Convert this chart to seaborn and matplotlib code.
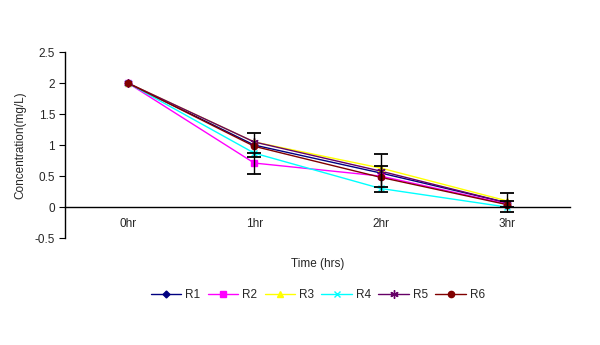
import matplotlib
matplotlib.use("Agg")
import matplotlib.pyplot as plt
import seaborn as sns
import pandas as pd
import numpy as np
from matplotlib.lines import Line2D

times = ["0hr", "1hr", "2hr", "3hr"]
series = ["R1", "R2", "R3", "R4", "R5", "R6"]
R1 = [2.0, 1.00, 0.55, 0.07]
R2 = [2.0, 0.71, 0.50, 0.05]
R3 = [2.0, 1.05, 0.63, 0.10]
R4 = [2.0, 0.87, 0.30, 0.00]
R5 = [2.0, 1.05, 0.58, 0.07]
R6 = [2.0, 0.98, 0.48, 0.04]
R1_err = [0.0, 0.20, 0.30, 0.15]
R2_err = [0.0, 0.17, 0.17, 0.05]

colors = ["#000080", "#FF00FF", "#FFFF00", "#00FFFF", "#660066", "#800000"]
markers = ["D", "s", "^", "x", (6, 2, 0), "o"]
msizes = [3.5, 4.5, 5, 5, 6, 4.5]

values = {"R1": R1, "R2": R2, "R3": R3, "R4": R4, "R5": R5, "R6": R6}
rows = []
for s in series:
    for i, t in enumerate(times):
        rows.append({"pos": i, "time": t, "series": s, "value": values[s][i]})
df = pd.DataFrame(rows)

sns.set_style("white")
plt.rcParams["font.family"] = ["Liberation Sans", "DejaVu Sans"]
FS = 8.5

fig = plt.figure(figsize=(6, 3.45), dpi=100)
ax = fig.add_axes([0.108, 0.310, 0.842, 0.539])

pal = dict(zip(series, colors))
sns.lineplot(data=df, x="pos", y="value", hue="series", palette=pal, ax=ax,
             legend=False, linewidth=1, sort=False)
for s, c, m, ms in zip(series, colors, markers, msizes):
    sub = df[df.series == s]
    ax.plot(sub.pos, sub.value, linestyle="none", marker=m, color=c,
            markersize=ms, markeredgecolor=c, markeredgewidth=1)

for vals, errs in [(R1, R1_err), (R2, R2_err)]:
    idx = [i for i in range(4) if errs[i] > 0]
    ax.errorbar(idx, [vals[i] for i in idx], yerr=[errs[i] for i in idx],
                fmt="none", ecolor="black", elinewidth=1, capsize=5, capthick=1.3)

ax.set_xlim(-0.5, 3.5)
ax.set_ylim(-0.5, 2.5)
ax.set_yticks(np.arange(-0.5, 2.51, 0.5))
ax.set_yticklabels(["-0.5", "0", "0.5", "1", "1.5", "2", "2.5"])
ax.set_xticks(range(4))
ax.set_xticklabels(times)
ax.set_xticks(np.arange(-0.5, 3.6, 1), minor=True)

for sp in ["top", "right"]:
    ax.spines[sp].set_visible(False)
ax.spines["bottom"].set_position(("data", 0))
ax.spines["bottom"].set_color("black")
ax.spines["left"].set_color("black")
ax.spines["bottom"].set_linewidth(1)
ax.spines["left"].set_linewidth(1)

ax.tick_params(axis="x", which="major", length=0, pad=8, labelsize=FS)
ax.tick_params(axis="x", which="minor", length=4, direction="out", color="black")
ax.tick_params(axis="y", length=4, direction="out", color="black", labelsize=FS, pad=3,
               left=True)

ax.set_xlabel("Time (hrs)", fontsize=FS, labelpad=20)
ax.set_ylabel("Concentration(mg/L)", fontsize=FS, labelpad=6)

handles = [Line2D([0], [0], color=c, marker=m, markersize=ms, linewidth=1,
                  markeredgecolor=c) for c, m, ms in zip(colors, markers, msizes)]
fig.legend(handles, series, loc="center", bbox_to_anchor=(0.53, 0.145), ncol=6,
           frameon=False, fontsize=FS, handlelength=2.6, columnspacing=0.6,
           handletextpad=0.35)

fig.savefig("out.png", dpi=100)
